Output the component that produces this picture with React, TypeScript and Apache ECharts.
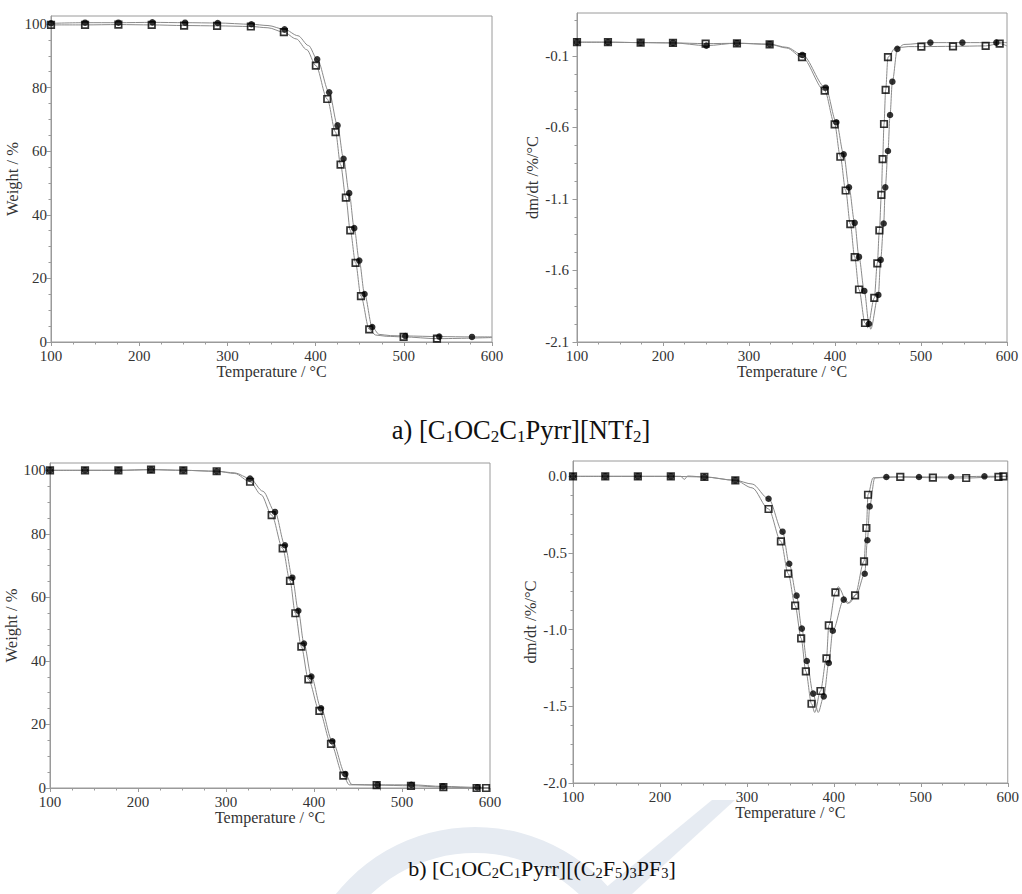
import React, { useEffect, useRef } from 'react';
import * as echarts from 'echarts';

// ---------- tick labels ----------
const TEMP_TICKS = [100, 200, 300, 400, 500, 600];
const WEIGHT_TICKS = [0, 20, 40, 60, 80, 100];
const DTG_A_TICKS = [-2.1, -1.6, -1.1, -0.6, -0.1];
const DTG_B_TICKS = [-2.0, -1.5, -1.0, -0.5, 0.0];

// ---------- a) TG ----------
const aTgCircleX = [100, 138.6, 176.4, 214.9, 252.0, 289.0, 327.2, 364.8, 401.8, 415.4, 424.9, 431.7, 438.1, 443.8, 449.5, 455.5, 464.2, 501.6, 540.2, 577.3];
const aTgCircleY = [100.2, 100.4, 100.4, 100.5, 100.4, 100.3, 99.9, 98.3, 88.9, 78.5, 68.1, 57.6, 46.8, 35.8, 25.6, 15.1, 4.7, 1.9, 1.7, 1.6];
const aTgSquareX = [100, 138.6, 176.4, 214.2, 250.9, 288.3, 326.6, 364.0, 400.3, 413.2, 422.6, 428.3, 434.3, 439.3, 445.3, 451.4, 460.8, 499.8, 537.6];
const aTgSquareY = [99.7, 99.7, 99.8, 99.7, 99.5, 99.4, 99.2, 97.4, 86.9, 76.4, 66.0, 55.8, 45.4, 35.1, 24.9, 14.4, 4.0, 1.6, 1.05];
const aTgCircleLineX = [346, 380, 392, 472, 485, 600];
const aTgCircleLineY = [99.5, 96.3, 93.2, 2.4, 2.0, 1.6];
const aTgSquareLineX = [346, 378, 390, 468, 480, 600];
const aTgSquareLineY = [98.8, 95.3, 91.9, 2.2, 1.8, 1.4];

// ---------- a) DTG ----------
const aDtgCircleX = [100, 136, 174, 211.6, 250.4, 286, 324, 362.0, 389.1, 401.6, 410.1, 416.3, 422.9, 427.9, 434.1, 439.5, 450.4, 453.1, 456.6, 458.5, 461.6, 464.0, 466.7, 472.5, 510.9, 548.1, 587.6];
const aDtgCircleY = [-0.004, -0.004, -0.007, -0.009, -0.028, -0.011, -0.018, -0.093, -0.322, -0.564, -0.788, -1.019, -1.267, -1.505, -1.743, -1.972, -1.771, -1.526, -1.272, -1.019, -0.765, -0.513, -0.280, -0.051, -0.007, -0.007, -0.007];
const aDtgSquareX = [100, 136.0, 174.0, 211.6, 249.6, 286.0, 324.0, 361.6, 388.0, 399.6, 406.2, 412.4, 417.8, 422.9, 427.9, 434.9, 445.7, 449.2, 451.6, 453.9, 455.4, 457.0, 458.9, 461.6, 500.4, 537.2, 575.2, 591.5];
const aDtgSquareY = [-0.004, -0.004, -0.007, -0.009, -0.014, -0.012, -0.019, -0.109, -0.343, -0.578, -0.805, -1.041, -1.276, -1.507, -1.733, -1.967, -1.792, -1.550, -1.319, -1.071, -0.821, -0.576, -0.338, -0.109, -0.035, -0.033, -0.030, -0.014];
const aDtgCircleLineX = [344, 441.5, 480, 600];
const aDtgCircleLineY = [-0.04, -2.01, -0.02, -0.007];
const aDtgSquareLineX = [344, 438, 470, 485, 600];
const aDtgSquareLineY = [-0.045, -2.0, -0.045, -0.035, -0.03];

// ---------- b) TG ----------
const bTgCircleX = [100, 139.8, 177.7, 214.8, 251.5, 289.4, 327.3, 355.7, 367.0, 375.4, 382.2, 388.6, 397.0, 408.0, 420.8, 435.6, 472.0, 510.6, 546.6, 585.6];
const bTgCircleY = [100, 100, 100, 100.2, 100, 99.7, 97.4, 86.9, 76.4, 66.2, 55.8, 45.5, 35.1, 25.1, 14.7, 4.4, 1.0, 1.0, 0.5, 0.2];
const bTgSquareX = [100, 139.8, 177.7, 214.8, 251.5, 289.4, 327.3, 351.9, 364.4, 372.7, 378.8, 385.6, 393.6, 406.1, 419.3, 433.3, 471.2, 510.2, 547.0, 584.8, 595.5];
const bTgSquareY = [100, 100, 100, 100.2, 100, 99.7, 96.4, 85.9, 75.4, 65.2, 55.0, 44.5, 34.2, 24.3, 13.9, 3.9, 0.9, 0.7, 0.3, 0.0, 0.0];
const bTgCircleLineX = [310, 342, 443, 600];
const bTgCircleLineY = [99.2, 93.4, 1.1, 0.1];
const bTgSquareLineX = [310, 340, 440, 600];
const bTgSquareLineY = [99.0, 92.3, 1.0, 0.0];

// ---------- b) DTG ----------
const bDtgCircleX = [100, 137.1, 174.6, 212.5, 251.1, 286.7, 324.9, 341.0, 348.7, 357.1, 363.2, 368.9, 376.2, 388.4, 394.2, 398.8, 411.4, 435.5, 438.6, 441.2, 460.4, 497.9, 535.0, 573.2];
const bDtgCircleY = [0.0, 0.0, 0.0, 0.0, -0.004, -0.026, -0.146, -0.361, -0.570, -0.778, -0.993, -1.204, -1.417, -1.435, -1.217, -1.007, -0.804, -0.635, -0.417, -0.196, -0.004, -0.004, -0.004, 0.0];
const bDtgSquareX = [100, 137.1, 174.6, 212.5, 251.1, 286.7, 324.9, 339.1, 347.5, 355.5, 362.4, 367.8, 374.3, 384.6, 391.5, 394.2, 401.8, 424.4, 434.7, 437.4, 439.3, 476.4, 513.9, 552.2, 589.3, 595.0];
const bDtgSquareY = [0.0, 0.0, 0.0, 0.0, -0.004, -0.026, -0.213, -0.424, -0.635, -0.843, -1.057, -1.272, -1.483, -1.400, -1.187, -0.972, -0.757, -0.776, -0.554, -0.337, -0.120, -0.004, -0.009, -0.011, -0.004, 0.0];
const bDtgCircleLineX = [306, 382, 418, 426, 447, 600];
const bDtgCircleLineY = [-0.05, -1.54, -0.825, -0.77, -0.01, 0.0];
const bDtgSquareLineX = [224, 228, 232, 306, 378, 405, 416, 445, 600];
const bDtgSquareLineY = [0.0, -0.02, 0.002, -0.075, -1.54, -0.72, -0.83, -0.01, 0.0];

// ---------- titles ----------
const TITLE_A = 'a) [C{s|1}OC{s|2}C{s|1}Pyrr][NTf{s|2}]';
const TITLE_B = 'b) [C{s|1}OC{s|2}C{s|1}Pyrr][(C{s|2}F{s|5}){s|3}PF{s|3}]';

const SERIF = '"Liberation Serif", "Times New Roman", serif';
const AXIS_GRAY = '#9a9a9a';
const TEXT = '#333';
const LINE_GRAY = '#8a8a8a';

const zip = (xs: number[], ys: number[]) => xs.map((x, i) => [x, ys[i]]);
const curve = (marks: number[][], extra: number[][]) =>
  [...marks, ...extra].sort((a, b) => a[0] - b[0]);

function minorValues(min: number, max: number, step: number, majors: number[]) {
  const out: number[] = [];
  for (let k = 0; ; k++) {
    const v = Math.round((min + k * step) * 10000) / 10000;
    if (v > max + 1e-9) break;
    if (!majors.some((m) => Math.abs(m - v) < 1e-6)) out.push(v);
  }
  return out;
}

interface Panel {
  grid: any;
  yMin: number;
  yMax: number;
  yTicks: number[];
  yMinorStep: number;
  yName: string;
  yNameGap: number;
  yLabelMargin: number;
  xNameGap: number;
  fmt: (v: number) => string;
  circles: number[][];
  squares: number[][];
  circleLine: number[][];
  squareLine: number[][];
}

const panels: Panel[] = [
  {
    grid: { left: 51, top: 16, width: 441, height: 326 },
    yMin: 0, yMax: 102.5, yTicks: WEIGHT_TICKS, yMinorStep: 5,
    yName: 'Weight / %', yNameGap: 26, yLabelMargin: 4, xNameGap: 20,
    fmt: (v) => String(v),
    circles: zip(aTgCircleX, aTgCircleY),
    squares: zip(aTgSquareX, aTgSquareY),
    circleLine: curve(zip(aTgCircleX, aTgCircleY), zip(aTgCircleLineX, aTgCircleLineY)),
    squareLine: curve(zip(aTgSquareX, aTgSquareY), zip(aTgSquareLineX, aTgSquareLineY)),
  },
  {
    grid: { left: 577, top: 13, width: 430, height: 329 },
    yMin: -2.1, yMax: 0.2, yTicks: DTG_A_TICKS, yMinorStep: 0.125,
    yName: 'dm/dt /%/°C', yNameGap: 35, yLabelMargin: 8, xNameGap: 20,
    fmt: (v) => v.toFixed(1),
    circles: zip(aDtgCircleX, aDtgCircleY),
    squares: zip(aDtgSquareX, aDtgSquareY),
    circleLine: curve(zip(aDtgCircleX, aDtgCircleY), zip(aDtgCircleLineX, aDtgCircleLineY)),
    squareLine: curve(zip(aDtgSquareX, aDtgSquareY), zip(aDtgSquareLineX, aDtgSquareLineY)),
  },
  {
    grid: { left: 50, top: 463, width: 440, height: 325 },
    yMin: 0, yMax: 102.3, yTicks: WEIGHT_TICKS, yMinorStep: 5,
    yName: 'Weight / %', yNameGap: 25, yLabelMargin: 4, xNameGap: 18,
    fmt: (v) => String(v),
    circles: zip(bTgCircleX, bTgCircleY),
    squares: zip(bTgSquareX, bTgSquareY),
    circleLine: curve(zip(bTgCircleX, bTgCircleY), zip(bTgCircleLineX, bTgCircleLineY)),
    squareLine: curve(zip(bTgSquareX, bTgSquareY), zip(bTgSquareLineX, bTgSquareLineY)),
  },
  {
    grid: { left: 573, top: 461, width: 435, height: 322 },
    yMin: -2.0, yMax: 0.1, yTicks: DTG_B_TICKS, yMinorStep: 0.125,
    yName: 'dm/dt /%/°C', yNameGap: 33, yLabelMargin: 6, xNameGap: 18,
    fmt: (v) => v.toFixed(1),
    circles: zip(bDtgCircleX, bDtgCircleY),
    squares: zip(bDtgSquareX, bDtgSquareY),
    circleLine: curve(zip(bDtgCircleX, bDtgCircleY), zip(bDtgCircleLineX, bDtgCircleLineY)),
    squareLine: curve(zip(bDtgSquareX, bDtgSquareY), zip(bDtgSquareLineX, bDtgSquareLineY)),
  },
];

function buildOption() {
  const grids: any[] = [];
  const xAxes: any[] = [];
  const yAxes: any[] = [];
  const series: any[] = [];

  panels.forEach((p, i) => {
    grids.push({ ...p.grid, show: true, borderColor: AXIS_GRAY, borderWidth: 1, backgroundColor: 'transparent' });
    xAxes.push({
      type: 'value', gridIndex: i, position: 'bottom', min: 100, max: 600, interval: 100,
      axisLine: { show: true, onZero: false, lineStyle: { color: AXIS_GRAY, width: 1 } },
      axisTick: { show: true, inside: false, length: 4, lineStyle: { color: AXIS_GRAY } },
      minorTick: { show: true, splitNumber: 4, length: 2.5, lineStyle: { color: AXIS_GRAY } },
      splitLine: { show: false },
      axisLabel: {
        customValues: TEMP_TICKS, margin: 6, color: TEXT, fontFamily: SERIF, fontSize: 15,
        formatter: (v: number) => String(v),
      },
      name: 'Temperature / °C', nameLocation: 'middle', nameGap: p.xNameGap,
      nameTextStyle: { color: TEXT, fontFamily: SERIF, fontSize: 16 },
    });
    yAxes.push({
      type: 'value', gridIndex: i, position: 'left', min: p.yMin, max: p.yMax,
      axisLine: { show: true, onZero: false, lineStyle: { color: AXIS_GRAY, width: 1 } },
      axisTick: { show: true, inside: false, length: 4.5, customValues: p.yTicks, lineStyle: { color: AXIS_GRAY } },
      splitLine: { show: false },
      axisLabel: {
        customValues: p.yTicks, margin: p.yLabelMargin, color: TEXT, fontFamily: SERIF, fontSize: 15,
        formatter: (v: number) => p.fmt(v),
      },
      name: p.yName, nameLocation: 'middle', nameGap: p.yNameGap,
      nameTextStyle: { color: TEXT, fontFamily: SERIF, fontSize: 16.5 },
    });
    yAxes.push({
      type: 'value', gridIndex: i, position: 'left', offset: 0, min: p.yMin, max: p.yMax,
      axisLine: { show: false, onZero: false },
      axisTick: {
        show: true, inside: false, length: 2.5,
        customValues: minorValues(p.yMin, p.yMax, p.yMinorStep, p.yTicks),
        lineStyle: { color: AXIS_GRAY },
      },
      axisLabel: { show: false },
      splitLine: { show: false },
    });
    const common = { xAxisIndex: i, yAxisIndex: 2 * i, clip: false, silent: true };
    series.push({
      ...common, type: 'line', data: p.squareLine, symbol: 'none', showSymbol: false,
      smooth: 0.3, smoothMonotone: 'x', lineStyle: { color: LINE_GRAY, width: 1 }, z: 2,
    });
    series.push({
      ...common, type: 'line', data: p.circleLine, symbol: 'none', showSymbol: false,
      smooth: 0.3, smoothMonotone: 'x', lineStyle: { color: LINE_GRAY, width: 1 }, z: 2,
    });
    series.push({
      ...common, type: 'scatter', data: p.circles, symbol: 'circle', symbolSize: 6.5,
      itemStyle: { color: '#000' }, z: 3,
    });
    series.push({
      ...common, type: 'scatter', data: p.squares, symbol: 'rect', symbolSize: 6.5,
      itemStyle: { color: 'rgba(0,0,0,0)', borderColor: '#000', borderWidth: 1.7 }, z: 4,
    });
  });

  return {
    animation: false,
    backgroundColor: '#fff',
    grid: grids,
    xAxis: xAxes,
    yAxis: yAxes,
    series,
    graphic: [
      {
        type: 'ring', z: 0, silent: true,
        shape: { cx: 475, cy: 1005, r: 178, r0: 152 },
        style: { fill: '#e6ebf2' },
      },
      {
        type: 'polygon', z: 0, silent: true,
        shape: { points: [[598, 894], [632, 894], [735, 800], [712, 800]] },
        style: { fill: '#e6ebf2' },
      },
      {
        type: 'text', z: 10, x: 521, y: 430,
        style: {
          text: TITLE_A, align: 'center', verticalAlign: 'middle',
          fontFamily: SERIF, fontSize: 26.5, lineHeight: 30, fill: '#111',
          rich: { s: { fontFamily: SERIF, fontSize: 17, lineHeight: 15, verticalAlign: 'bottom', fill: '#111' } },
        },
      },
      {
        type: 'text', z: 10, x: 542, y: 868,
        style: {
          text: TITLE_B, align: 'center', verticalAlign: 'middle',
          fontFamily: SERIF, fontSize: 22, lineHeight: 25, fill: '#111',
          rich: { s: { fontFamily: SERIF, fontSize: 14.5, lineHeight: 12, verticalAlign: 'bottom', fill: '#111' } },
        },
      },
    ],
  };
}

export default function App() {
  const ref = useRef<HTMLDivElement>(null);
  useEffect(() => {
    if (!ref.current) return;
    const chart = echarts.init(ref.current, null, { renderer: 'svg' });
    chart.setOption(buildOption() as any);
    return () => chart.dispose();
  }, []);
  return (
    <div
      ref={ref}
      style={{ position: 'absolute', left: 0, top: 0, width: 1022, height: 894, background: '#fff' }}
    />
  );
}
